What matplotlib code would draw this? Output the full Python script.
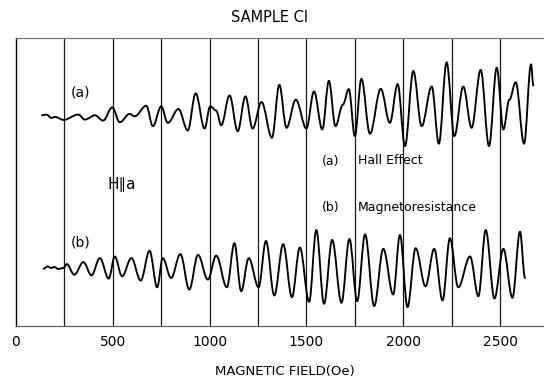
import matplotlib
matplotlib.use("Agg")
import matplotlib.pyplot as plt
from matplotlib.path import Path
from matplotlib.patches import PathPatch

# Trace (a): Hall effect, turning points of the recorder trace
hall_field = [134, 159, 182, 202, 245, 322, 356, 408, 450, 497, 536, 587, 613,
              673, 707, 750, 784, 839, 887, 928, 974, 1003, 1034, 1060, 1103,
              1145, 1185, 1222, 1268, 1322, 1360, 1397, 1445, 1500, 1539, 1582,
              1616, 1650, 1688, 1719, 1750, 1784, 1828, 1884, 1931, 1971, 2009,
              2052, 2095, 2147, 2184, 2224, 2264, 2310, 2353, 2400, 2443, 2483,
              2517, 2548, 2581, 2624, 2660, 2672]
hall_signal = [210.7, 211.4, 208.1, 209.1, 206.1, 211.4, 206.4, 210.7, 205.4,
               218.7, 203.8, 212.1, 209.7, 220.3, 199.8, 219.7, 203.1, 217.0,
               195.5, 232.6, 197.5, 219.7, 215.4, 200.8, 230.6, 194.8, 229.6,
               197.5, 224.0, 188.2, 241.2, 198.2, 226.3, 197.5, 234.6, 196.5,
               245.2, 199.8, 221.3, 236.9, 189.9, 247.2, 192.2, 237.2, 203.1,
               241.9, 179.9, 255.1, 199.8, 239.5, 182.3, 263.7, 189.9, 239.5,
               198.2, 256.1, 179.9, 258.4, 196.5, 226.3, 243.8, 182.3, 261.7,
               240.5]

# Trace (b): magnetoresistance, turning points of the recorder trace
mr_field = [142, 164, 181, 198, 219, 245, 262, 301, 348, 390, 433, 479, 510,
            548, 596, 644, 690, 729, 758, 801, 849, 895, 940, 991, 1034, 1089,
            1128, 1163, 1202, 1253, 1291, 1334, 1380, 1425, 1466, 1514, 1551,
            1591, 1633, 1681, 1722, 1762, 1803, 1850, 1897, 1948, 1983, 2022,
            2064, 2115, 2160, 2203, 2241, 2284, 2345, 2388, 2426, 2471, 2517,
            2564, 2603, 2629]
mr_signal = [57.3, 59.6, 58.0, 59.0, 57.0, 58.0, 61.9, 51.3, 63.9, 50.7, 67.9,
             47.4, 69.5, 49.7, 67.9, 45.4, 75.2, 38.7, 67.9, 48.0, 71.9, 36.4,
             71.2, 46.4, 70.5, 38.7, 82.8, 34.8, 67.9, 38.7, 85.1, 30.5, 81.8,
             28.8, 78.5, 24.2, 96.0, 22.2, 86.1, 23.2, 87.1, 24.8, 91.7, 19.9,
             77.2, 31.5, 91.1, 18.9, 77.8, 39.7, 77.2, 25.5, 87.8, 38.7, 69.5,
             29.8, 96.0, 27.5, 77.2, 28.2, 94.4, 48.0]

grid_fields = [250, 500, 750, 1000, 1250, 1500, 1750, 2000, 2250, 2500]
tick_values = [0, 500, 1000, 1500, 2000, 2500]
tick_labels = ["0", "500", "1000", "1500", "2000", "2500"]


def recorder_path(xs, ys, handle=0.36):
    """Smooth pen-recorder style path through successive turning points."""
    verts = [(xs[0], ys[0])]
    codes = [Path.MOVETO]
    for i in range(len(xs) - 1):
        dx = xs[i + 1] - xs[i]
        verts += [(xs[i] + handle * dx, ys[i]),
                  (xs[i + 1] - handle * dx, ys[i + 1]),
                  (xs[i + 1], ys[i + 1])]
        codes += [Path.CURVE4] * 3
    return Path(verts, codes)


W, H = 544, 379
fig = plt.figure(figsize=(W / 100, H / 100), dpi=100)
x0, x1 = 16, 544
y_top, y_bot = 38, 326
ax = fig.add_axes([x0 / W, (H - y_bot) / H, (x1 - x0) / W, (y_bot - y_top) / H])
ax.set_xlim(0, 2727)
ax.set_ylim(0, 288)

for xv in grid_fields:
    ax.axvline(xv, color="#1a1a1a", lw=0.9, zorder=1)

for xs, ys in ((hall_field, hall_signal), (mr_field, mr_signal)):
    ax.add_patch(PathPatch(recorder_path(xs, ys), fill=False,
                           edgecolor="black", lw=1.35, zorder=3,
                           capstyle="round", joinstyle="round"))

ax.spines["right"].set_visible(False)
ax.spines["left"].set_color("black")
ax.spines["left"].set_linewidth(1.0)
ax.spines["top"].set_color("#777777")
ax.spines["top"].set_linewidth(0.9)
ax.spines["bottom"].set_color("#666666")
ax.spines["bottom"].set_linewidth(0.9)

ax.set_yticks([])
ax.set_xticks(tick_values)
ax.set_xticklabels(tick_labels)
ax.tick_params(axis="x", length=0, pad=6.5, labelsize=10, colors="black")

fig.text(285 / W, 1 - 372 / H, "MAGNETIC FIELD(Oe)", ha="center", va="center",
         fontsize=9.5)
fig.text(270 / W, 1 - 18 / H, "SAMPLE CI", ha="center", va="center",
         fontsize=10.5)


def px_text(x, y, s, **kw):
    fig.text(x / W, 1 - y / H, s, va="center", **kw)


px_text(81, 92, "(a)", ha="center", fontsize=10)
px_text(81, 242, "(b)", ha="center", fontsize=10)
px_text(122, 185, "H\u2225a", ha="center", fontsize=11)
px_text(331, 161, "(a)", ha="center", fontsize=9)
px_text(358, 161, "Hall Effect", ha="left", fontsize=9)
px_text(331, 207, "(b)", ha="center", fontsize=9)
px_text(358, 207, "Magnetoresistance", ha="left", fontsize=9)

fig.savefig("out.png", dpi=100)
